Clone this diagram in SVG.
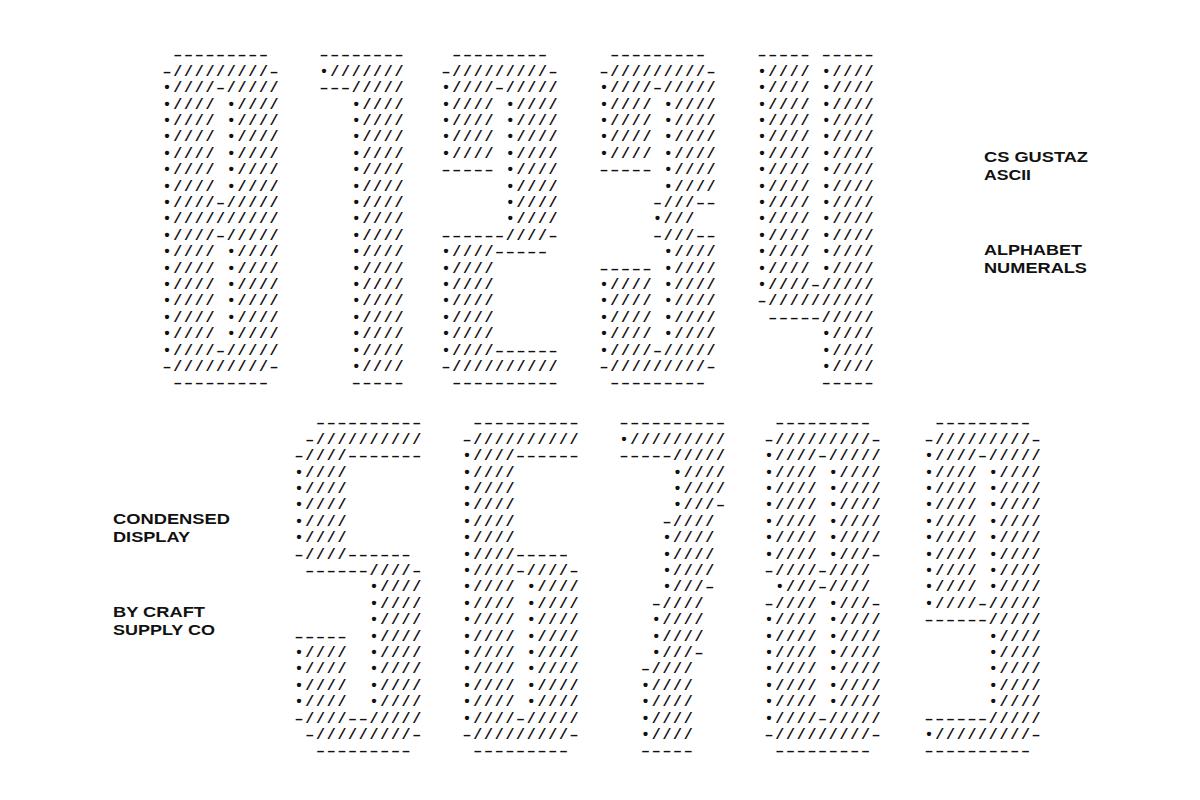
<svg xmlns="http://www.w3.org/2000/svg" width="1200" height="800" viewBox="0 0 1200 800">
<style>
.a{font-family:"Liberation Mono","DejaVu Sans Mono",monospace;font-size:15px;letter-spacing:1.7px;font-weight:bold;fill:#111;white-space:pre}
.l{font-family:"Liberation Sans",Arial,sans-serif;font-size:14px;font-weight:bold;fill:#111}
</style>
<rect width="1200" height="800" fill="#fff"/>
<g id="d0"><text class="a" xml:space="preserve" y="43"><tspan x="162.6" dy="16.4"> –––––––––</tspan><tspan x="162.6" dy="16.4">–/////////–</tspan><tspan x="162.6" dy="16.4">•////–/////</tspan><tspan x="162.6" dy="16.4">•//// •////</tspan><tspan x="162.6" dy="16.4">•//// •////</tspan><tspan x="162.6" dy="16.4">•//// •////</tspan><tspan x="162.6" dy="16.4">•//// •////</tspan><tspan x="162.6" dy="16.4">•//// •////</tspan><tspan x="162.6" dy="16.4">•//// •////</tspan><tspan x="162.6" dy="16.4">•////–/////</tspan><tspan x="162.6" dy="16.4">•//////////</tspan><tspan x="162.6" dy="16.4">•////–/////</tspan><tspan x="162.6" dy="16.4">•//// •////</tspan><tspan x="162.6" dy="16.4">•//// •////</tspan><tspan x="162.6" dy="16.4">•//// •////</tspan><tspan x="162.6" dy="16.4">•//// •////</tspan><tspan x="162.6" dy="16.4">•//// •////</tspan><tspan x="162.6" dy="16.4">•//// •////</tspan><tspan x="162.6" dy="16.4">•////–/////</tspan><tspan x="162.6" dy="16.4">–/////////–</tspan><tspan x="162.6" dy="16.4"> –––––––––</tspan></text></g>
<g id="d1"><text class="a" xml:space="preserve" y="43"><tspan x="319.6" dy="16.4">––––––––</tspan><tspan x="319.6" dy="16.4">•///////</tspan><tspan x="319.6" dy="16.4">–––/////</tspan><tspan x="319.6" dy="16.4">   •////</tspan><tspan x="319.6" dy="16.4">   •////</tspan><tspan x="319.6" dy="16.4">   •////</tspan><tspan x="319.6" dy="16.4">   •////</tspan><tspan x="319.6" dy="16.4">   •////</tspan><tspan x="319.6" dy="16.4">   •////</tspan><tspan x="319.6" dy="16.4">   •////</tspan><tspan x="319.6" dy="16.4">   •////</tspan><tspan x="319.6" dy="16.4">   •////</tspan><tspan x="319.6" dy="16.4">   •////</tspan><tspan x="319.6" dy="16.4">   •////</tspan><tspan x="319.6" dy="16.4">   •////</tspan><tspan x="319.6" dy="16.4">   •////</tspan><tspan x="319.6" dy="16.4">   •////</tspan><tspan x="319.6" dy="16.4">   •////</tspan><tspan x="319.6" dy="16.4">   •////</tspan><tspan x="319.6" dy="16.4">   •////</tspan><tspan x="319.6" dy="16.4">   –––––</tspan></text></g>
<g id="d2"><text class="a" xml:space="preserve" y="43"><tspan x="441.6" dy="16.4"> –––––––––</tspan><tspan x="441.6" dy="16.4">–/////////–</tspan><tspan x="441.6" dy="16.4">•////–/////</tspan><tspan x="441.6" dy="16.4">•//// •////</tspan><tspan x="441.6" dy="16.4">•//// •////</tspan><tspan x="441.6" dy="16.4">•//// •////</tspan><tspan x="441.6" dy="16.4">•//// •////</tspan><tspan x="441.6" dy="16.4">––––– •////</tspan><tspan x="441.6" dy="16.4">      •////</tspan><tspan x="441.6" dy="16.4">      •////</tspan><tspan x="441.6" dy="16.4">      •////</tspan><tspan x="441.6" dy="16.4">––––––////–</tspan><tspan x="441.6" dy="16.4">•////–––––</tspan><tspan x="441.6" dy="16.4">•////</tspan><tspan x="441.6" dy="16.4">•////</tspan><tspan x="441.6" dy="16.4">•////</tspan><tspan x="441.6" dy="16.4">•////</tspan><tspan x="441.6" dy="16.4">•////</tspan><tspan x="441.6" dy="16.4">•////––––––</tspan><tspan x="441.6" dy="16.4">–//////////</tspan><tspan x="441.6" dy="16.4"> ––––––––––</tspan></text></g>
<g id="d3"><text class="a" xml:space="preserve" y="43"><tspan x="599.6" dy="16.4"> –––––––––</tspan><tspan x="599.6" dy="16.4">–/////////–</tspan><tspan x="599.6" dy="16.4">•////–/////</tspan><tspan x="599.6" dy="16.4">•//// •////</tspan><tspan x="599.6" dy="16.4">•//// •////</tspan><tspan x="599.6" dy="16.4">•//// •////</tspan><tspan x="599.6" dy="16.4">•//// •////</tspan><tspan x="599.6" dy="16.4">––––– •////</tspan><tspan x="599.6" dy="16.4">      •////</tspan><tspan x="599.6" dy="16.4">     –///––</tspan><tspan x="599.6" dy="16.4">     •///</tspan><tspan x="599.6" dy="16.4">     –///––</tspan><tspan x="599.6" dy="16.4">      •////</tspan><tspan x="599.6" dy="16.4">––––– •////</tspan><tspan x="599.6" dy="16.4">•//// •////</tspan><tspan x="599.6" dy="16.4">•//// •////</tspan><tspan x="599.6" dy="16.4">•//// •////</tspan><tspan x="599.6" dy="16.4">•//// •////</tspan><tspan x="599.6" dy="16.4">•////–/////</tspan><tspan x="599.6" dy="16.4">–/////////–</tspan><tspan x="599.6" dy="16.4"> –––––––––</tspan></text></g>
<g id="d4"><text class="a" xml:space="preserve" y="43"><tspan x="757.6" dy="16.4">––––– –––––</tspan><tspan x="757.6" dy="16.4">•//// •////</tspan><tspan x="757.6" dy="16.4">•//// •////</tspan><tspan x="757.6" dy="16.4">•//// •////</tspan><tspan x="757.6" dy="16.4">•//// •////</tspan><tspan x="757.6" dy="16.4">•//// •////</tspan><tspan x="757.6" dy="16.4">•//// •////</tspan><tspan x="757.6" dy="16.4">•//// •////</tspan><tspan x="757.6" dy="16.4">•//// •////</tspan><tspan x="757.6" dy="16.4">•//// •////</tspan><tspan x="757.6" dy="16.4">•//// •////</tspan><tspan x="757.6" dy="16.4">•//// •////</tspan><tspan x="757.6" dy="16.4">•//// •////</tspan><tspan x="757.6" dy="16.4">•//// •////</tspan><tspan x="757.6" dy="16.4">•////–/////</tspan><tspan x="757.6" dy="16.4">–//////////</tspan><tspan x="757.6" dy="16.4"> –––––/////</tspan><tspan x="757.6" dy="16.4">      •////</tspan><tspan x="757.6" dy="16.4">      •////</tspan><tspan x="757.6" dy="16.4">      •////</tspan><tspan x="757.6" dy="16.4">      –––––</tspan></text></g>
<g id="d5"><text class="a" xml:space="preserve" y="411"><tspan x="294.6" dy="16.4">  ––––––––––</tspan><tspan x="294.6" dy="16.4"> –//////////</tspan><tspan x="294.6" dy="16.4">–////–––––––</tspan><tspan x="294.6" dy="16.4">•////</tspan><tspan x="294.6" dy="16.4">•////</tspan><tspan x="294.6" dy="16.4">•////</tspan><tspan x="294.6" dy="16.4">•////</tspan><tspan x="294.6" dy="16.4">•////</tspan><tspan x="294.6" dy="16.4">–////––––––</tspan><tspan x="294.6" dy="16.4"> ––––––////–</tspan><tspan x="294.6" dy="16.4">       •////</tspan><tspan x="294.6" dy="16.4">       •////</tspan><tspan x="294.6" dy="16.4">       •////</tspan><tspan x="294.6" dy="16.4">–––––  •////</tspan><tspan x="294.6" dy="16.4">•////  •////</tspan><tspan x="294.6" dy="16.4">•////  •////</tspan><tspan x="294.6" dy="16.4">•////  •////</tspan><tspan x="294.6" dy="16.4">•////  •////</tspan><tspan x="294.6" dy="16.4">–////––/////</tspan><tspan x="294.6" dy="16.4"> –/////////–</tspan><tspan x="294.6" dy="16.4">  –––––––––</tspan></text></g>
<g id="d6"><text class="a" xml:space="preserve" y="411"><tspan x="462.6" dy="16.4"> ––––––––––</tspan><tspan x="462.6" dy="16.4">–//////////</tspan><tspan x="462.6" dy="16.4">•////––––––</tspan><tspan x="462.6" dy="16.4">•////</tspan><tspan x="462.6" dy="16.4">•////</tspan><tspan x="462.6" dy="16.4">•////</tspan><tspan x="462.6" dy="16.4">•////</tspan><tspan x="462.6" dy="16.4">•////</tspan><tspan x="462.6" dy="16.4">•////–––––</tspan><tspan x="462.6" dy="16.4">•////–////–</tspan><tspan x="462.6" dy="16.4">•//// •////</tspan><tspan x="462.6" dy="16.4">•//// •////</tspan><tspan x="462.6" dy="16.4">•//// •////</tspan><tspan x="462.6" dy="16.4">•//// •////</tspan><tspan x="462.6" dy="16.4">•//// •////</tspan><tspan x="462.6" dy="16.4">•//// •////</tspan><tspan x="462.6" dy="16.4">•//// •////</tspan><tspan x="462.6" dy="16.4">•//// •////</tspan><tspan x="462.6" dy="16.4">•////–/////</tspan><tspan x="462.6" dy="16.4">–/////////–</tspan><tspan x="462.6" dy="16.4"> –––––––––</tspan></text></g>
<g id="d7"><text class="a" xml:space="preserve" y="411"><tspan x="619.6" dy="16.4">––––––––––</tspan><tspan x="619.6" dy="16.4">•/////////</tspan><tspan x="619.6" dy="16.4">–––––/////</tspan><tspan x="619.6" dy="16.4">     •////</tspan><tspan x="619.6" dy="16.4">     •////</tspan><tspan x="619.6" dy="16.4">     •///–</tspan><tspan x="619.6" dy="16.4">    –////</tspan><tspan x="619.6" dy="16.4">    •////</tspan><tspan x="619.6" dy="16.4">    •////</tspan><tspan x="619.6" dy="16.4">    •////</tspan><tspan x="619.6" dy="16.4">    •///–</tspan><tspan x="619.6" dy="16.4">   –////</tspan><tspan x="619.6" dy="16.4">   •////</tspan><tspan x="619.6" dy="16.4">   •////</tspan><tspan x="619.6" dy="16.4">   •///–</tspan><tspan x="619.6" dy="16.4">  –////</tspan><tspan x="619.6" dy="16.4">  •////</tspan><tspan x="619.6" dy="16.4">  •////</tspan><tspan x="619.6" dy="16.4">  •////</tspan><tspan x="619.6" dy="16.4">  •////</tspan><tspan x="619.6" dy="16.4">  –––––</tspan></text></g>
<g id="d8"><text class="a" xml:space="preserve" y="411"><tspan x="764.6" dy="16.4"> –––––––––</tspan><tspan x="764.6" dy="16.4">–/////////–</tspan><tspan x="764.6" dy="16.4">•////–/////</tspan><tspan x="764.6" dy="16.4">•//// •////</tspan><tspan x="764.6" dy="16.4">•//// •////</tspan><tspan x="764.6" dy="16.4">•//// •////</tspan><tspan x="764.6" dy="16.4">•//// •////</tspan><tspan x="764.6" dy="16.4">•//// •////</tspan><tspan x="764.6" dy="16.4">•//// •///–</tspan><tspan x="764.6" dy="16.4">–////–////</tspan><tspan x="764.6" dy="16.4"> •///–////</tspan><tspan x="764.6" dy="16.4">–//// •///–</tspan><tspan x="764.6" dy="16.4">•//// •////</tspan><tspan x="764.6" dy="16.4">•//// •////</tspan><tspan x="764.6" dy="16.4">•//// •////</tspan><tspan x="764.6" dy="16.4">•//// •////</tspan><tspan x="764.6" dy="16.4">•//// •////</tspan><tspan x="764.6" dy="16.4">•//// •////</tspan><tspan x="764.6" dy="16.4">•////–/////</tspan><tspan x="764.6" dy="16.4">–/////////–</tspan><tspan x="764.6" dy="16.4"> –––––––––</tspan></text></g>
<g id="d9"><text class="a" xml:space="preserve" y="411"><tspan x="924.6" dy="16.4"> –––––––––</tspan><tspan x="924.6" dy="16.4">–/////////–</tspan><tspan x="924.6" dy="16.4">•////–/////</tspan><tspan x="924.6" dy="16.4">•//// •////</tspan><tspan x="924.6" dy="16.4">•//// •////</tspan><tspan x="924.6" dy="16.4">•//// •////</tspan><tspan x="924.6" dy="16.4">•//// •////</tspan><tspan x="924.6" dy="16.4">•//// •////</tspan><tspan x="924.6" dy="16.4">•//// •////</tspan><tspan x="924.6" dy="16.4">•//// •////</tspan><tspan x="924.6" dy="16.4">•//// •////</tspan><tspan x="924.6" dy="16.4">•////–/////</tspan><tspan x="924.6" dy="16.4">––––––/////</tspan><tspan x="924.6" dy="16.4">      •////</tspan><tspan x="924.6" dy="16.4">      •////</tspan><tspan x="924.6" dy="16.4">      •////</tspan><tspan x="924.6" dy="16.4">      •////</tspan><tspan x="924.6" dy="16.4">      •////</tspan><tspan x="924.6" dy="16.4">––––––/////</tspan><tspan x="924.6" dy="16.4">•/////////–</tspan><tspan x="924.6" dy="16.4">––––––––––</tspan></text></g>
<g id="labels">
<text class="l" x="984" y="162" textLength="104" lengthAdjust="spacingAndGlyphs">CS GUSTAZ</text>
<text class="l" x="984" y="180" textLength="47" lengthAdjust="spacingAndGlyphs">ASCII</text>
<text class="l" x="984" y="255" textLength="98" lengthAdjust="spacingAndGlyphs">ALPHABET</text>
<text class="l" x="984" y="273" textLength="103" lengthAdjust="spacingAndGlyphs">NUMERALS</text>
<text class="l" x="113" y="524" textLength="117" lengthAdjust="spacingAndGlyphs">CONDENSED</text>
<text class="l" x="113" y="542" textLength="77" lengthAdjust="spacingAndGlyphs">DISPLAY</text>
<text class="l" x="113" y="617" textLength="92" lengthAdjust="spacingAndGlyphs">BY CRAFT</text>
<text class="l" x="113" y="635" textLength="102" lengthAdjust="spacingAndGlyphs">SUPPLY CO</text>
</g>
</svg>
